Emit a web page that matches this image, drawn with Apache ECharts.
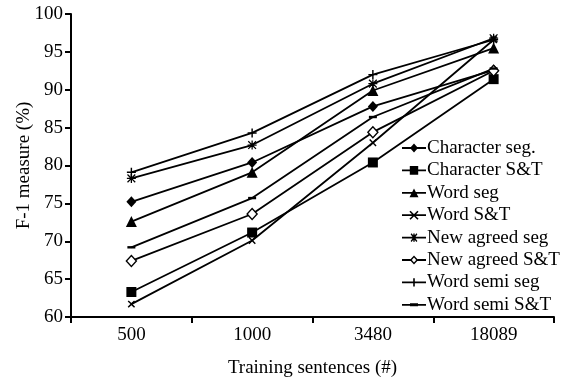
<!DOCTYPE html>
<html>
<head>
<meta charset="utf-8">
<script src="https://cdn.jsdelivr.net/npm/echarts@6/dist/echarts.min.js"></script>
<style>html,body{margin:0;padding:0;background:#fff}#c{width:562px;height:379px}</style>
</head>
<body>
<div id="c"></div>
<script>
var categories = ['500', '1000', '3480', '18089'];
var seriesNames = ['Character seg.', 'Character S&T', 'Word seg', 'Word S&T', 'New agreed seg', 'New agreed S&T', 'Word semi seg', 'Word semi S&T'];
var charSeg = [75.2, 80.4, 87.8, 92.6];
var charST = [63.3, 71.15, 80.4, 91.4];
var wordSeg = [72.6, 79.1, 89.9, 95.5];
var wordST = [61.7, 70.1, 83.0, 96.6];
var newAgreedSeg = [78.3, 82.7, 90.8, 96.8];
var newAgreedST = [67.4, 73.6, 84.4, 92.5];
var wordSemiSeg = [79.1, 84.3, 92.0, 96.6];
var wordSemiST = [69.2, 75.7, 86.4, 92.8];
var yTicks = [60, 65, 70, 75, 80, 85, 90, 95, 100];

var dataSets = [charSeg, charST, wordSeg, wordST, newAgreedSeg, newAgreedST, wordSemiSeg, wordSemiST];
var plus = 'path://M4.2,0H5.8V4.2H10V5.8H5.8V10H4.2V5.8H0V4.2H4.2Z';
var star = 'path://M4.3,0H5.7V4.3H10V5.7H5.7V10H4.3V5.7H0V4.3H4.3Z M1.2,0.2L5,4L8.8,0.2L9.8,1.2L6,5L9.8,8.8L8.8,9.8L5,6L1.2,9.8L0.2,8.8L4,5L0.2,1.2Z';
var dash = 'path://M0,0H10V2.4H0Z';
var styles = [
  {symbol: 'diamond', size: [10, 11]},
  {symbol: 'rect', size: 10},
  {symbol: 'triangle', size: 11},
  {symbol: plus, size: 9, rotate: 45},
  {symbol: star, size: 9},
  {symbol: 'diamond', size: [10, 11], open: true},
  {symbol: plus, size: 9},
  {symbol: dash, size: [8, 2.4]}
];
// legend icons drawn in a 24x10 box (line + marker)
var box = 'M0,0h0.05v0.05h-0.05Z M23.95,9.95h0.05v0.05h-0.05Z ';
var ln = 'M0,4.1H24V5.9H0Z ';
var legendIcons = [
  'path://' + box + ln + 'M12,0.5L16,5L12,9.5L8,5Z',
  'path://' + box + ln + 'M7.8,0.6H16.2V9.4H7.8Z',
  'path://' + box + ln + 'M12,0.8L16.5,9.4H7.5Z',
  'path://' + box + ln + 'M7.43,1.57L8.57,0.43L16.57,8.43L15.43,9.57Z M15.43,0.43L16.57,1.57L8.57,9.57L7.43,8.43Z',
  'path://' + box + ln + 'M11.3,0.8H12.7V9.2H11.3Z M8.6,1.6L9.6,0.6L15.4,8.4L14.4,9.4Z M14.4,0.6L15.4,1.6L9.6,9.4L8.6,8.4Z',
  'path://' + box + 'M0,4.1H8.4V5.9H0Z M15.6,4.1H24V5.9H15.6Z M12,0.5L16.2,5L12,9.5L7.8,5Z M12,2.4L9.8,5L12,7.6L14.2,5Z',
  'path://' + box + ln + 'M11.2,0.8H12.8V9.2H11.2Z',
  'path://' + box + ln + 'M8,3.5H16V6.5H8Z'
];
var font = 'Liberation Serif';
var series = seriesNames.map(function (n, i) {
  var s = styles[i];
  return {
    name: n, type: 'line', data: dataSets[i],
    symbol: s.symbol, symbolSize: s.size, symbolRotate: s.rotate || 0,
    showAllSymbol: true,
    lineStyle: {color: '#000', width: 1.8},
    itemStyle: s.open ? {color: '#fff', borderColor: '#000', borderWidth: 1.4} : {color: '#000', borderWidth: 0},
    emphasis: {disabled: true},
    animation: false
  };
});
var legendData = seriesNames.map(function (n, i) {
  return {name: n, icon: legendIcons[i], itemStyle: {color: '#000', borderWidth: 0}};
});
var chart = echarts.init(document.getElementById('c'), null, {renderer: 'canvas'});
chart.setOption({
  backgroundColor: '#fff',
  animation: false,
  grid: {left: 71, right: 8, top: 14, bottom: 62, containLabel: false, outerBoundsMode: 'none'},
  xAxis: {
    type: 'category', data: categories, boundaryGap: true,
    name: 'Training sentences (#)', nameLocation: 'middle', nameGap: 42, nameMoveOverlap: false,
    nameTextStyle: {fontFamily: font, fontSize: 19, color: '#000'},
    axisLine: {lineStyle: {color: '#000', width: 2}},
    axisTick: {show: true, length: 6, lineStyle: {color: '#000', width: 2}},
    axisLabel: {fontFamily: font, fontSize: 19, color: '#000', margin: 9},
    splitLine: {show: false}
  },
  yAxis: {
    type: 'value', min: 60, max: 100, interval: 5,
    name: 'F-1 measure (%)', nameLocation: 'middle', nameGap: 37, nameMoveOverlap: false,
    nameTextStyle: {fontFamily: font, fontSize: 19, color: '#000'},
    axisLine: {show: true, lineStyle: {color: '#000', width: 2}},
    axisTick: {show: true, length: 6, lineStyle: {color: '#000', width: 2}},
    axisLabel: {fontFamily: font, fontSize: 19, color: '#000', margin: 8,
      formatter: function (v) { return yTicks.indexOf(v) >= 0 ? String(v) : ''; }},
    splitLine: {show: false}
  },
  legend: {
    orient: 'vertical', left: 397, top: 133.5,
    itemWidth: 24, itemHeight: 10, itemGap: 3.4,
    textStyle: {fontFamily: font, fontSize: 19, color: '#000', padding: [0, 0, 0, -4]},
    inactiveColor: '#000',
    data: legendData
  },
  series: series
});
</script>
</body>
</html>
